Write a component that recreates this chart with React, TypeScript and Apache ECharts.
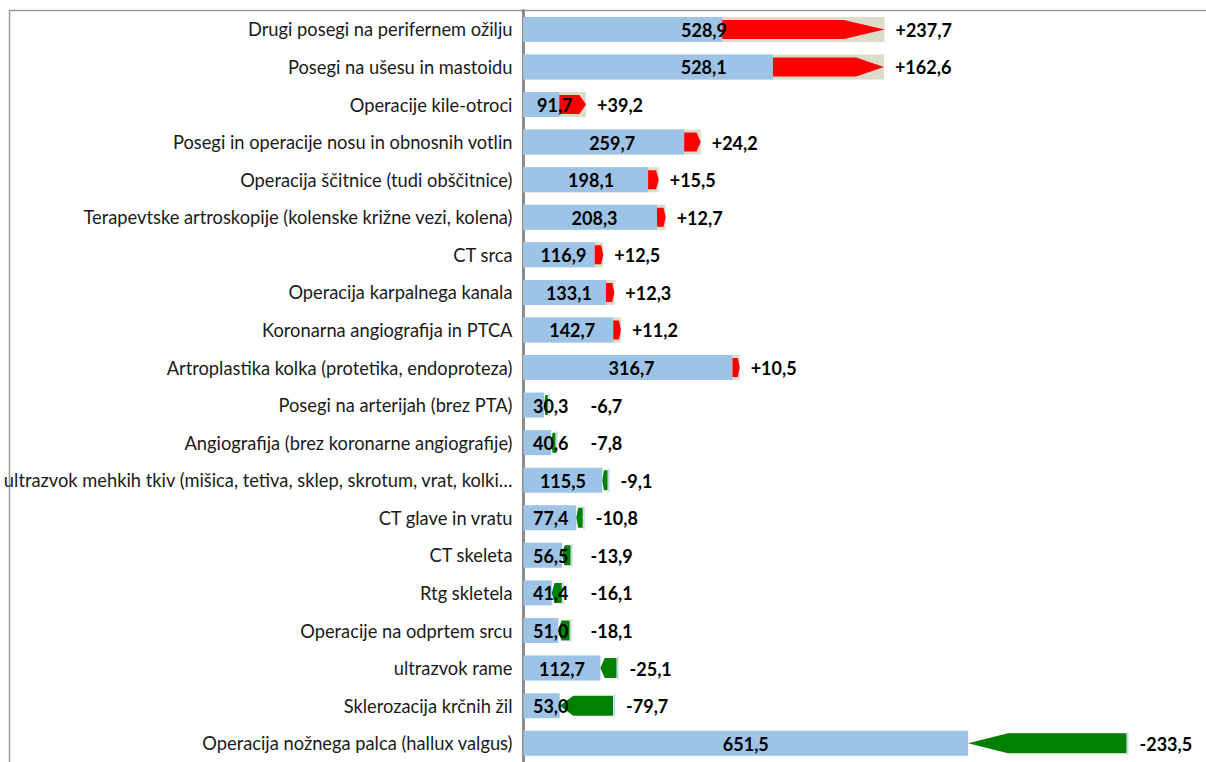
import React, { useEffect, useRef } from "react";
import * as echarts from "echarts";

const categories: string[] = [
  "Drugi posegi na perifernem ožilju",
  "Posegi na ušesu in mastoidu",
  "Operacije kile-otroci",
  "Posegi in operacije nosu in obnosnih votlin",
  "Operacija ščitnice (tudi obščitnice)",
  "Terapevtske artroskopije (kolenske križne vezi, kolena)",
  "CT srca",
  "Operacija karpalnega kanala",
  "Koronarna angiografija in PTCA",
  "Artroplastika kolka (protetika, endoproteza)",
  "Posegi na arterijah (brez PTA)",
  "Angiografija (brez koronarne angiografije)",
  "ultrazvok mehkih tkiv (mišica, tetiva, sklep, skrotum, vrat, kolki…",
  "CT glave in vratu",
  "CT skeleta",
  "Rtg skletela",
  "Operacije na odprtem srcu",
  "ultrazvok rame",
  "Sklerozacija krčnih žil",
  "Operacija nožnega palca (hallux valgus)",
];

const currentValues: number[] = [
  528.9, 528.1, 91.7, 259.7, 198.1, 208.3, 116.9, 133.1, 142.7, 316.7,
  30.3, 40.6, 115.5, 77.4, 56.5, 41.4, 51.0, 112.7, 53.0, 651.5,
];

const changes: number[] = [
  237.7, 162.6, 39.2, 24.2, 15.5, 12.7, 12.5, 12.3, 11.2, 10.5,
  -6.7, -7.8, -9.1, -10.8, -13.9, -16.1, -18.1, -25.1, -79.7, -233.5,
];

const AXIS_MAX = 1000;

const fmt = (v: number) => v.toFixed(1).replace(".", ",");
const fmtChange = (v: number) => (v > 0 ? "+" : "") + fmt(v);

const FONT = "Lato";
const LABEL_FONT = `bold 18px ${FONT}`;

let measureCtx: CanvasRenderingContext2D | null = null;
const measure = (text: string, font: string) => {
  if (!measureCtx) measureCtx = document.createElement("canvas").getContext("2d");
  if (!measureCtx) return text.length * 9;
  measureCtx.font = font;
  return measureCtx.measureText(text).width;
};

export default function App() {
  const ref = useRef<HTMLDivElement>(null);

  useEffect(() => {
    if (!ref.current) return;
    const chart = echarts.init(ref.current, undefined, { renderer: "svg" });

    const blueData = currentValues.map((v, i) => (changes[i] > 0 ? v - changes[i] : v));
    const bgData = currentValues.map((v, i) => (changes[i] > 0 ? v : null));
    const arrowData = currentValues.map((v, i) => {
      const c = changes[i];
      return c > 0 ? [i, v - c, v, 1] : [i, v, v - c, -1];
    });
    const curLabelData = currentValues.map((v, i) => [i, v]);
    const changeLabelData = currentValues.map((v, i) => {
      const c = changes[i];
      const end = c > 0 ? v : v - c;
      return [i, end, c];
    });

    chart.setOption({
      animation: false,
      graphic: [
        {
          type: "rect",
          silent: true,
          z: -1,
          shape: { x: 9.5, y: 10.5, width: 1400, height: 900 },
          style: { fill: "none", stroke: "#9a9a9a", lineWidth: 1.5 },
        },
      ],
      grid: { left: 523, top: 10.6, width: 685, height: 756.8, containLabel: false },
      xAxis: {
        type: "value",
        min: 0,
        max: AXIS_MAX,
        show: false,
      },
      yAxis: {
        type: "category",
        data: categories,
        inverse: true,
        axisLine: { show: true, lineStyle: { color: "#8c8c8c", width: 3 } },
        axisTick: { show: false },
        axisLabel: {
          margin: 11,
          color: "#1a1a1a",
          fontFamily: FONT,
          fontSize: 18.3,
        },
        splitLine: { show: false },
      },
      series: [
        {
          type: "bar",
          name: "bg",
          data: bgData,
          barWidth: 25,
          barGap: "-100%",
          itemStyle: { color: "#DDDCCB" },
          z: 1,
          silent: true,
        },
        {
          type: "bar",
          name: "base",
          data: blueData,
          barWidth: 25,
          barGap: "-100%",
          itemStyle: { color: "#9DC3E6" },
          z: 2,
          silent: true,
        },
        {
          type: "custom",
          name: "arrows",
          data: arrowData,
          encode: { x: [1, 2], y: 0 },
          z: 3,
          silent: true,
          renderItem: (params: any, api: any) => {
            const idx = api.value(0);
            const a = api.coord([api.value(1), idx]);
            const b = api.coord([api.value(2), idx]);
            const dir = api.value(3);
            const y = a[1];
            const len = b[0] - a[0];
            const head = len * 0.25;
            const children: any[] = [];
            if (dir > 0) {
              const h = 19;
              children.push({
                type: "polygon",
                shape: {
                  points: [
                    [a[0], y - h / 2],
                    [b[0] - head, y - h / 2],
                    [b[0], y],
                    [b[0] - head, y + h / 2],
                    [a[0], y + h / 2],
                  ],
                },
                style: { fill: "#FF0000" },
              });
            } else {
              const h = 20;
              children.push({
                type: "rect",
                shape: { x: b[0] - 0.5, y: y - 11.5, width: 1.5, height: 23 },
                style: { fill: "#BDD7EE" },
              });
              children.push({
                type: "polygon",
                shape: {
                  points: [
                    [a[0], y],
                    [a[0] + head, y - h / 2],
                    [b[0] - 1, y - h / 2],
                    [b[0] - 1, y + h / 2],
                    [a[0] + head, y + h / 2],
                  ],
                },
                style: { fill: "#008000" },
              });
            }
            return { type: "group", children };
          },
        },
        {
          type: "custom",
          name: "currentLabels",
          data: curLabelData,
          encode: { x: 1, y: 0 },
          z: 10,
          silent: true,
          renderItem: (params: any, api: any) => {
            const idx = api.value(0);
            const v = api.value(1);
            const origin = api.coord([0, idx]);
            const mid = api.coord([v / 2, idx]);
            const text = fmt(v);
            const w = measure(text, LABEL_FONT);
            const minLeft = origin[0] + 9.5;
            const left = Math.max(mid[0] - w / 2, minLeft);
            return {
              type: "text",
              x: left,
              y: mid[1] + 0.5,
              style: {
                text,
                fill: "#000",
                font: LABEL_FONT,
                verticalAlign: "middle",
                align: "left",
              },
            };
          },
        },
        {
          type: "custom",
          name: "changeLabels",
          data: changeLabelData,
          encode: { x: 1, y: 0 },
          z: 11,
          silent: true,
          renderItem: (params: any, api: any) => {
            const idx = api.value(0);
            const c = api.value(2);
            const origin = api.coord([0, idx]);
            const p = api.coord([api.value(1), idx]);
            const gap = c > 0 ? 11 : 12;
            const left = Math.max(p[0] + gap, origin[0] + 67);
            return {
              type: "text",
              x: left,
              y: p[1] + 0.5,
              style: {
                text: fmtChange(c),
                fill: "#000",
                font: LABEL_FONT,
                verticalAlign: "middle",
                align: "left",
              },
            };
          },
        },
      ],
    });

    return () => chart.dispose();
  }, []);

  return (
    <div
      ref={ref}
      style={{ position: "fixed", left: 0, top: 0, width: 1206, height: 762, background: "#fff" }}
    />
  );
}
